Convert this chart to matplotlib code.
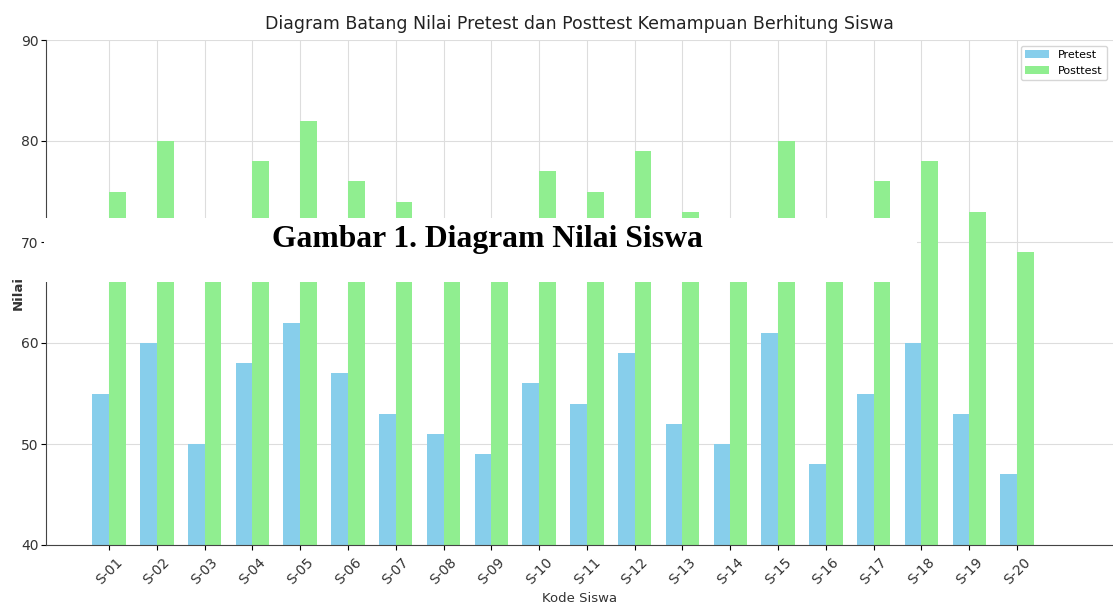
import numpy as np
import matplotlib.pyplot as plt
from matplotlib.patches import Rectangle

# data
kode = ['S-%02d' % i for i in range(1, 21)]
pretest = [55, 60, 50, 58, 62, 57, 53, 51, 49, 56, 54, 59, 52, 50, 61, 48, 55, 60, 53, 47]
posttest = [75, 80, 70, 78, 82, 76, 74, 72, 71, 77, 75, 79, 73, 68, 80, 69, 76, 78, 73, 69]

W, H = 1113, 610
fig = plt.figure(figsize=(W / 100, H / 100), dpi=100)
ax = fig.add_axes([46 / W, 1 - 545 / H, 1 - 46 / W, (545 - 40) / H])

x = np.arange(len(kode))
w = 0.35
ax.bar(x - w / 2, pretest, w, color='skyblue', label='Pretest', zorder=2)
ax.bar(x + w / 2, posttest, w, color='lightgreen', label='Posttest', zorder=2)

ax.set_ylim(40, 90)
ax.set_yticks([40, 50, 60, 70, 80, 90])
ax.set_xlim(-(109 - 46) / 47.8, 19 + (W - 1017) / 47.8)
ax.set_xticks(x)
ax.set_xticklabels(kode, rotation=45, fontsize=10, color='#333333')
ax.tick_params(axis='y', labelsize=10, labelcolor='#333333', pad=2)
ax.grid(True, color='#dddddd', linewidth=0.8, zorder=0)
ax.set_axisbelow(True)
for s in ['top', 'right']:
    ax.spines[s].set_visible(False)
ax.spines['left'].set_color('#444444')
ax.spines['bottom'].set_color('#444444')

ax.set_title('Diagram Batang Nilai Pretest dan Posttest Kemampuan Berhitung Siswa',
             fontsize=12.5, color='#222222', pad=8)
ax.set_xlabel('Kode Siswa', fontsize=9.5, color='#333333')
ax.set_ylabel('Nilai', fontsize=9.5, fontweight='bold', color='#333333')
ax.yaxis.set_label_coords(-0.020, 0.5)
ax.legend(loc='upper right', fontsize=8, handlelength=2.2)

# caption pasted over the chart
fig.add_artist(Rectangle((44 / W, 1 - 282 / H), (917 - 44) / W, 64 / H,
                         transform=fig.transFigure, facecolor='white',
                         edgecolor='none', zorder=10))
fig.text(272 / W, 1 - 247 / H, 'Gambar 1. Diagram Nilai Siswa',
         family='Liberation Serif', fontweight='bold', fontsize=22.8,
         va='baseline', ha='left', zorder=11)

fig.savefig('out.png', dpi=100)
